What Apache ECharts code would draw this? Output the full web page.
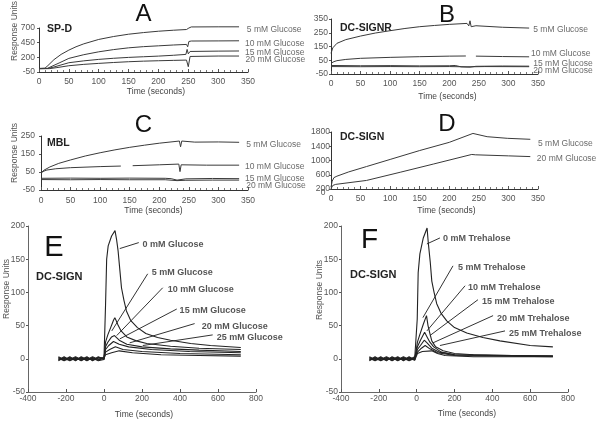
<!DOCTYPE html>
<html lang="en">
<head>
<meta charset="UTF-8">
<title>Lectin binding sensorgrams</title>
<script src="https://cdn.jsdelivr.net/npm/echarts@6/dist/echarts.min.js"></script>
<style>
    html, body { margin: 0; padding: 0; background: #fff; }
    #chart { width: 601px; height: 424px; }
</style>
</head>
<body>
<div id="chart"></div>
<script>
    const FONT = "'Liberation Sans', Arial, sans-serif";

    // ---- data: [time (s), response units] ----
    const glucoseNames = ['5 mM Glucose', '10 mM Glucose', '15 mM Glucose', '20 mM Glucose'];

    // A: SP-D
    const a5 = [[0,10],[10,15],[12,25],[15,60],[25,160],[37,250],[50,323],[62,380],[75,430],[100,505],[125,555],[150,594],[175,622],[200,645],[225,662],[247,674],[249,650],[251,700],[255,718],[300,720],[335,720]];
    const a10 = [[0,10],[14,12],[20,40],[35,110],[50,182],[75,245],[100,294],[125,332],[150,362],[175,382],[200,396],[225,410],[247,420],[249,380],[251,470],[255,478],[300,480],[335,482]];
    const a15 = [[0,8],[15,10],[25,35],[50,108],[75,140],[100,165],[125,184],[150,199],[175,210],[200,221],[225,235],[246,250],[248,335],[250,260],[253,300],[300,306],[335,308]];
    const a20 = [[0,5],[18,8],[30,25],[50,57],[75,80],[100,97],[125,112],[150,125],[175,135],[200,142],[225,148],[247,153],[250,40],[253,215],[256,221],[300,222],[335,222]];
    const aLabelPos = [[348,679],[345,437],[345,277],[346,153]];

    // B: DC-SIGNR
    const b5 = [[0,100],[3,140],[10,173],[25,200],[50,226],[75,248],[100,265],[125,281],[150,294],[175,303],[200,311],[230,318],[233,300],[235,337],[237,294],[245,301],[290,290],[335,284]];
    const b10 = [[0,28],[5,40],[10,47],[25,56],[50,64],[100,71],[150,76],[200,80],[228,81],[236,'-'],[245,80],[290,77],[335,75]];
    const b15 = [[0,12],[50,10],[100,11],[150,9],[200,10],[210,12],[220,2],[235,0],[245,6],[290,8],[335,7]];
    const b20 = [[0,4],[50,3],[100,4],[150,3],[200,4],[230,2],[260,4],[335,3]];
    const bLabelPos = [[342,270],[338,95],[342,28],[342,-26]];

    // C: MBL
    const c5 = [[0,45],[5,60],[15,78],[30,98],[50,117],[75,139],[100,157],[125,173],[150,187],[175,199],[200,210],[234,222],[236,190],[238,222],[260,216],[300,217],[335,215]];
    const c10 = [[0,45],[5,55],[10,61],[25,68],[50,74],[100,80],[135,83],[145,'-'],[155,85],[200,90],[233,94],[235,52],[237,90],[240,92],[280,88],[335,88]];
    const c15 = [[0,15],[50,16],[100,15],[150,16],[210,15],[220,13],[230,5],[245,12],[290,14],[335,13]];
    const c20 = [[0,8],[50,7],[100,8],[150,7],[210,7],[230,2],[245,4],[290,5],[335,5]];
    const cLabelPos = [[347,200],[345,80],[345,15],[347,-26]];

    // D: DC-SIGN
    const dNames = ['5 mM Glucose', '20 mM Glucose'];
    const d5 = [[0,250],[2,420],[5,520],[10,560],[30,680],[60,830],[100,1030],[150,1280],[200,1510],[240,1760],[264,1668],[298,1623],[337,1595]];
    const d20 = [[0,210],[3,300],[8,330],[60,440],[117,670],[173,900],[238,1170],[241,1220],[244,1160],[300,1130],[337,1110]];
    const dLabelPos = [[350,1463],[348,1042]];

    // E: DC-SIGN, glucose competition
    const eNames = ['0 mM Glucose', '5 mM Glucose', '10 mM Glucose', '15 mM Glucose', '20 mM Glucose', '25 mM Glucose'];
    const e0 = [[-240,2],[-210,-2],[-180,3],[-150,-2],[-120,2],[-90,-3],[-60,2],[-30,-2],[0,1],[4,2],[8,80],[14,150],[22,170],[40,185],[58,193],[66,180],[74,163],[83,135],[92,107],[105,88],[118,72],[140,58],[176,47],[220,38],[282,32],[350,28],[456,23],[560,20],[720,17]];
    const e5 = [[-240,-2],[-210,3],[-180,-2],[-150,2],[-120,-3],[-90,2],[-60,-2],[-30,3],[0,-1],[4,1],[8,25],[20,36],[35,47],[50,58],[57,62],[65,57],[75,50],[90,42],[120,33],[170,27],[225,23],[350,19],[500,16],[720,14]];
    const e10 = [[-240,3],[-210,-1],[-180,2],[-150,-3],[-120,3],[-90,-1],[-60,3],[-30,-1],[0,2],[4,3],[8,18],[20,25],[40,33],[55,35],[80,28],[120,22],[200,18],[350,15],[500,13],[720,11]];
    const e15 = [[-240,-3],[-210,2],[-180,-1],[-150,3],[-120,-1],[-90,3],[-60,-3],[-30,2],[0,1],[4,2],[8,14],[25,20],[50,26],[80,22],[130,18],[250,14],[450,11],[720,9]];
    const e20 = [[-240,1],[-210,-3],[-180,1],[-150,-1],[-120,1],[-90,-2],[-60,1],[-30,-3],[0,-1],[4,0],[8,10],[30,14],[60,18],[100,14],[200,11],[400,8],[720,6]];
    const e25 = [[-240,-1],[-210,1],[-180,-3],[-150,1],[-120,-2],[-90,1],[-60,-1],[-30,1],[0,1],[4,1],[8,6],[40,9],[80,12],[150,9],[300,6],[500,5],[720,4]];
    const eLeaders = [[83,166,183,175],[41,42,230,128],[67,35,309,107],[83,30,383,75],[135,24,477,53],[204,20,572,36]];
    const eLabelPos = [[203,172],[251,130],[335,104],[398,72],[514,48],[593,32]];

    // F: DC-SIGN, trehalose competition
    const fNames = ['0 mM Trehalose', '5 mM Trehalose', '10 mM Trehalose', '15 mM Trehalose', '20 mM Trehalose', '25 mM Trehalose'];
    const f0 = [[-250,2],[-220,-2],[-190,3],[-160,-2],[-130,2],[-100,-3],[-70,2],[-40,-2],[-10,2],[0,0],[3,60],[8,130],[17,158],[35,182],[55,197],[62,173],[72,145],[80,117],[92,100],[106,83],[130,68],[159,57],[200,47],[265,39],[350,32],[440,27],[600,20],[720,18]];
    const f5 = [[-250,-2],[-220,3],[-190,-2],[-160,2],[-130,-3],[-100,2],[-70,-2],[-40,3],[-10,-2],[0,-1],[4,25],[15,35],[35,52],[52,65],[60,50],[70,38],[80,27],[100,18],[140,12],[200,8],[300,6],[500,5],[720,4]];
    const f10 = [[-250,3],[-220,-1],[-190,2],[-160,-3],[-130,3],[-100,-1],[-70,3],[-40,-1],[-10,3],[0,2],[4,18],[20,28],[42,40],[55,33],[70,25],[90,18],[130,10],[200,6],[400,5],[720,4]];
    const f15 = [[-250,-3],[-220,2],[-190,-1],[-160,3],[-130,-1],[-100,3],[-70,-3],[-40,2],[-10,-1],[0,1],[4,14],[20,20],[40,28],[55,24],[80,16],[120,10],[200,6],[720,4]];
    const f20 = [[-250,1],[-220,-3],[-190,1],[-160,-1],[-130,1],[-100,-2],[-70,1],[-40,-3],[-10,1],[0,-1],[4,10],[25,16],[45,20],[70,15],[110,9],[200,5],[720,3]];
    const f25 = [[-250,-1],[-220,1],[-190,-3],[-160,1],[-130,-2],[-100,1],[-70,-1],[-40,1],[-10,-2],[0,1],[4,8],[30,11],[80,12],[110,8],[150,5],[300,3],[720,3]];
    const fLeaders = [[54,173,123,182],[33,62,192,140],[54,42,256,110],[70,35,324,89],[86,24,404,65],[123,20,467,42]];
    const fLabelPos = [[139,181],[218,137],[271,107],[345,86],[425,60],[488,38]];

    // ---- layout ----
    const grids = [
        {left: 39, top: 28, width: 209, height: 44},
        {left: 331, top: 19, width: 207, height: 55},
        {left: 41, top: 136, width: 207, height: 54},
        {left: 331, top: 132, width: 207, height: 57},
        {left: 28, top: 226, width: 228, height: 166},
        {left: 341, top: 226, width: 227, height: 166}
    ];
    const xRanges = [[0,350,50],[0,350,50],[0,350,50],[0,350,50],[-400,800,200],[-400,800,200]];
    const yRanges = [[-50,700,250],[-50,350,100],[-50,250,100],[200,1800,400],[-50,200,50],[-50,200,50]];
    const xLabelMargin = [5, 5, 6, 5, 2, 2];
    const yLabelMargin = [4, 3, 6, 1, 3, 3];

    const tickText = {fontFamily: FONT, fontSize: 8.5, color: '#555', formatter: v => String(v)};

    const xAxes = xRanges.map((r, i) => ({
        type: 'value', gridIndex: i, min: r[0], max: r[1], interval: r[2],
        axisLine: {onZero: false, lineStyle: {color: i < 4 ? '#333' : '#666', width: 1}},
        axisTick: {inside: true, length: 3, lineStyle: {color: '#555'}},
        minorTick: {show: i < 4, splitNumber: 5, length: 2, lineStyle: {color: '#777'}},
        axisLabel: Object.assign({margin: xLabelMargin[i]}, tickText),
        splitLine: {show: false}
    }));
    const yAxes = yRanges.map((r, i) => ({
        type: 'value', gridIndex: i, min: r[0], max: r[1], interval: r[2],
        axisLine: {show: true, onZero: false, lineStyle: {color: i < 4 ? '#333' : '#666', width: 1}},
        axisTick: {show: true, length: 2, lineStyle: {color: '#555'}},
        axisLabel: Object.assign({margin: yLabelMargin[i]}, tickText),
        splitLine: {show: false}
    }));

    function curve(idx, name, data, color, width) {
        return {
            type: 'line', name: name, xAxisIndex: idx, yAxisIndex: idx, data: data,
            symbol: 'none', showSymbol: false, connectNulls: false, clip: false,
            lineStyle: {width: width || 1, color: color}, animation: false, z: 2
        };
    }

    function tags(idx, pos, names, bold) {
        return {
            type: 'scatter', xAxisIndex: idx, yAxisIndex: idx, clip: false,
            symbolSize: 0, itemStyle: {color: 'transparent'}, animation: false, silent: true,
            data: pos.map((p, k) => ({value: p, name: names[k]})),
            label: {
                show: true, position: 'right', distance: 0, formatter: '{b}',
                fontFamily: FONT, fontSize: bold ? 9 : 8.5,
                fontWeight: bold ? 'bold' : 'normal', color: bold ? '#2a2a2a' : '#444'
            }
        };
    }

    function leaders(idx, list) {
        return {
            type: 'lines', coordinateSystem: 'cartesian2d', xAxisIndex: idx, yAxisIndex: idx,
            polyline: false, animation: false, silent: true,
            lineStyle: {color: '#333', width: 1, opacity: 1, curveness: 0},
            data: list.map(l => ({coords: [[l[0], l[1]], [l[2], l[3]]]}))
        };
    }

    const grey = '#3a3a3a';
    const dark = '#222';
    const series = [
        curve(0, glucoseNames[0], a5, grey), curve(0, glucoseNames[1], a10, grey),
        curve(0, glucoseNames[2], a15, grey), curve(0, glucoseNames[3], a20, grey),
        tags(0, aLabelPos, glucoseNames, false),

        curve(1, glucoseNames[0], b5, grey), curve(1, glucoseNames[1], b10, grey),
        curve(1, glucoseNames[2], b15, grey), curve(1, glucoseNames[3], b20, grey),
        tags(1, bLabelPos, glucoseNames, false),

        curve(2, glucoseNames[0], c5, grey), curve(2, glucoseNames[1], c10, grey),
        curve(2, glucoseNames[2], c15, grey), curve(2, glucoseNames[3], c20, grey),
        tags(2, cLabelPos, glucoseNames, false),

        curve(3, dNames[0], d5, grey), curve(3, dNames[1], d20, grey),
        tags(3, dLabelPos, dNames, false),

        curve(4, eNames[0], e0, dark, 1.1), curve(4, eNames[1], e5, dark, 1.1), curve(4, eNames[2], e10, dark, 1.1),
        curve(4, eNames[3], e15, dark, 1.1), curve(4, eNames[4], e20, dark, 1.1), curve(4, eNames[5], e25, dark, 1.1),
        leaders(4, eLeaders), tags(4, eLabelPos, eNames, true),

        curve(5, fNames[0], f0, dark, 1.1), curve(5, fNames[1], f5, dark, 1.1), curve(5, fNames[2], f10, dark, 1.1),
        curve(5, fNames[3], f15, dark, 1.1), curve(5, fNames[4], f20, dark, 1.1), curve(5, fNames[5], f25, dark, 1.1),
        leaders(5, fLeaders), tags(5, fLabelPos, fNames, true)
    ];

    // ---- texts around the panels ----
    function txt(s, x, y, size, opts) {
        opts = opts || {};
        return {
            type: 'text', x: x, y: y, rotation: opts.rotation || 0, silent: true,
            style: {
                text: s, fill: opts.color || '#333',
                font: (opts.weight || 'normal') + ' ' + size + 'px ' + FONT,
                align: opts.align || 'center', textAlign: opts.align || 'center',
                verticalAlign: 'middle', textVerticalAlign: 'middle'
            }
        };
    }

    const graphics = [
        txt('A', 143.5, 14, 24, {color: '#111'}),
        txt('B', 447, 15, 24, {color: '#111'}),
        txt('C', 143.5, 125, 24, {color: '#111'}),
        txt('D', 447, 124.5, 24, {color: '#111'}),
        txt('E', 54, 248, 29, {color: '#111'}),
        txt('F', 369.5, 240.5, 28, {color: '#111'}),

        txt('SP-D', 47, 29.5, 10.5, {weight: 'bold', align: 'left', color: '#222'}),
        txt('DC-SIGNR', 340, 28, 10.5, {weight: 'bold', align: 'left', color: '#222'}),
        txt('MBL', 47, 143, 10.5, {weight: 'bold', align: 'left', color: '#222'}),
        txt('DC-SIGN', 340, 137, 10.5, {weight: 'bold', align: 'left', color: '#222'}),
        txt('DC-SIGN', 36, 277, 11, {weight: 'bold', align: 'left', color: '#222'}),
        txt('DC-SIGN', 350, 275, 11, {weight: 'bold', align: 'left', color: '#222'}),

        txt('Time (seconds)', 156, 92, 8.5, {color: '#444'}),
        txt('Time (seconds)', 447.5, 97, 8.5, {color: '#444'}),
        txt('Time (seconds)', 153.5, 211, 8.5, {color: '#444'}),
        txt('Time (seconds)', 446.5, 211, 8.5, {color: '#444'}),
        txt('Time (seconds)', 144, 415, 8.5, {color: '#444'}),
        txt('Time (seconds)', 467, 413.5, 8.5, {color: '#444'}),

        txt('Response Units', 15, 31, 8.5, {color: '#555', rotation: Math.PI / 2}),
        txt('Response Units', 15, 153, 8.5, {color: '#555', rotation: Math.PI / 2}),
        txt('Response Units', 7, 289, 8.5, {color: '#555', rotation: Math.PI / 2}),
        txt('Response Units', 320, 290, 8.5, {color: '#555', rotation: Math.PI / 2}),

        txt('0', 323, 193, 8.5, {color: '#555'})
    ];

    const chart = echarts.init(document.getElementById('chart'), null, {renderer: 'canvas'});
    chart.setOption({
        backgroundColor: '#fff',
        animation: false,
        grid: grids.map(g => Object.assign({containLabel: false, outerBoundsMode: 'none'}, g)),
        xAxis: xAxes,
        yAxis: yAxes,
        series: series,
        graphic: graphics
    });
</script>
</body>
</html>
